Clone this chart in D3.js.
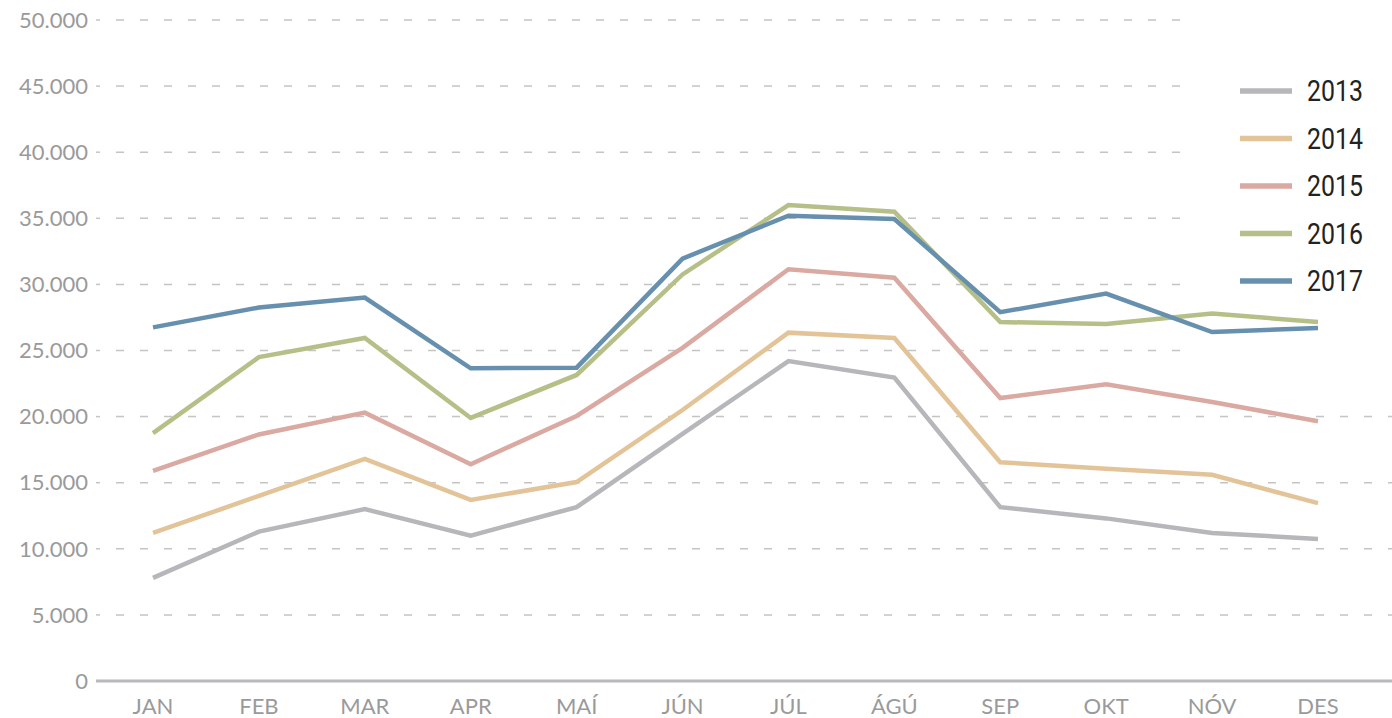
<!DOCTYPE html>
<html>
<head>
<meta charset="utf-8">
<script src="https://cdn.jsdelivr.net/npm/d3@7"></script>
<style>
  body { margin: 0; background: #fff; }
  svg { display: block; }
</style>
</head>
<body>
<script>
var width = 1392,
    height = 718;

var months = ["JAN", "FEB", "MAR", "APR", "MAÍ", "JÚN", "JÚL", "ÁGÚ", "SEP", "OKT", "NÓV", "DES"];
var years = ["2013", "2014", "2015", "2016", "2017"];
var colors = ["#b6b6bb", "#e3c499", "#daa9a1", "#b6bf87", "#6690ae"];
var yTicks = [0, 5000, 10000, 15000, 20000, 25000, 30000, 35000, 40000, 45000, 50000];

var v2013 = [7800, 11300, 13000, 11000, 13150, 18700, 24200, 22950, 13150, 12300, 11200, 10750];
var v2014 = [11200, 14000, 16800, 13700, 15050, 20500, 26350, 25950, 16550, 16050, 15600, 13450];
var v2015 = [15900, 18650, 20300, 16400, 20050, 25200, 31150, 30500, 21400, 22450, 21100, 19650];
var v2016 = [18750, 24500, 25950, 19900, 23150, 30750, 36000, 35500, 27150, 27000, 27800, 27150];
var v2017 = [26750, 28250, 29000, 23650, 23700, 31950, 35200, 34950, 27900, 29300, 26400, 26700];
var series = [v2013, v2014, v2015, v2016, v2017];

var svg = d3.select("body").append("svg")
    .attr("width", width)
    .attr("height", height);

var x = d3.scalePoint().domain(months).range([153, 1318]);
var y = d3.scaleLinear().domain([0, 50000]).range([681, 20]);

var fmt = function (d) { return d3.format(",")(d).replace(/,/g, "."); };
var tickFont = "Lato, 'Noto Sans', sans-serif";

// gridlines
svg.selectAll("line.grid").data(yTicks.filter(function (d) { return d > 0; }))
    .enter().append("line")
    .attr("class", "grid")
    .attr("x1", 100).attr("x2", width)
    .attr("y1", function (d) { return y(d); })
    .attr("y2", function (d) { return y(d); })
    .attr("stroke", "#c4c4c4")
    .attr("stroke-width", 1.5)
    .attr("stroke-dasharray", "8,16")
    .attr("stroke-dashoffset", 8);

// small tick marks next to labels
svg.selectAll("line.tk").data(yTicks.filter(function (d) { return d > 0; }))
    .enter().append("line")
    .attr("class", "tk")
    .attr("x1", 96).attr("x2", 100)
    .attr("y1", function (d) { return y(d); })
    .attr("y2", function (d) { return y(d); })
    .attr("stroke", "#c4c4c4")
    .attr("stroke-width", 1.5);

// legend background hides the grid on the right
svg.append("rect")
    .attr("x", 1196).attr("y", 0)
    .attr("width", width - 1196).attr("height", 385)
    .attr("fill", "#fff");

// baseline
svg.append("line")
    .attr("x1", 96).attr("x2", width)
    .attr("y1", y(0)).attr("y2", y(0))
    .attr("stroke", "#b8b8bd")
    .attr("stroke-width", 3);

// y labels
svg.selectAll("text.ylab").data(yTicks)
    .enter().append("text")
    .attr("class", "ylab")
    .attr("x", 88)
    .attr("y", function (d) { return y(d); })
    .attr("dy", "0.35em")
    .attr("text-anchor", "end")
    .attr("font-family", tickFont)
    .attr("font-size", 22)
    .attr("fill", "#9a9a9a")
    .text(fmt);

// x labels
svg.selectAll("text.xlab").data(months)
    .enter().append("text")
    .attr("class", "xlab")
    .attr("x", function (d) { return x(d); })
    .attr("y", 714)
    .attr("text-anchor", "middle")
    .attr("font-family", tickFont)
    .attr("font-size", 22)
    .attr("fill", "#9a9a9a")
    .text(function (d) { return d; });

var line = d3.line()
    .x(function (d, i) { return x(months[i]); })
    .y(function (d) { return y(d); });

svg.selectAll("path.series").data(series)
    .enter().append("path")
    .attr("class", "series")
    .attr("d", line)
    .attr("fill", "none")
    .attr("stroke", function (d, i) { return colors[i]; })
    .attr("stroke-width", 4.5)
    .attr("stroke-linejoin", "miter");

// legend
var leg = svg.selectAll("g.leg").data(years)
    .enter().append("g")
    .attr("class", "leg")
    .attr("transform", function (d, i) { return "translate(0," + (91 + i * 47.5) + ")"; });

leg.append("line")
    .attr("x1", 1240).attr("x2", 1292)
    .attr("y1", 0).attr("y2", 0)
    .attr("stroke", function (d, i) { return colors[i]; })
    .attr("stroke-width", 5.5);

leg.append("text")
    .attr("x", 1307)
    .attr("y", 0)
    .attr("dy", "0.36em")
    .attr("font-family", "Roboto, sans-serif")
    .attr("font-size", 29)
    .attr("fill", "#222")
    .attr("textLength", 56)
    .attr("lengthAdjust", "spacingAndGlyphs")
    .text(function (d) { return d; });
</script>
</body>
</html>
